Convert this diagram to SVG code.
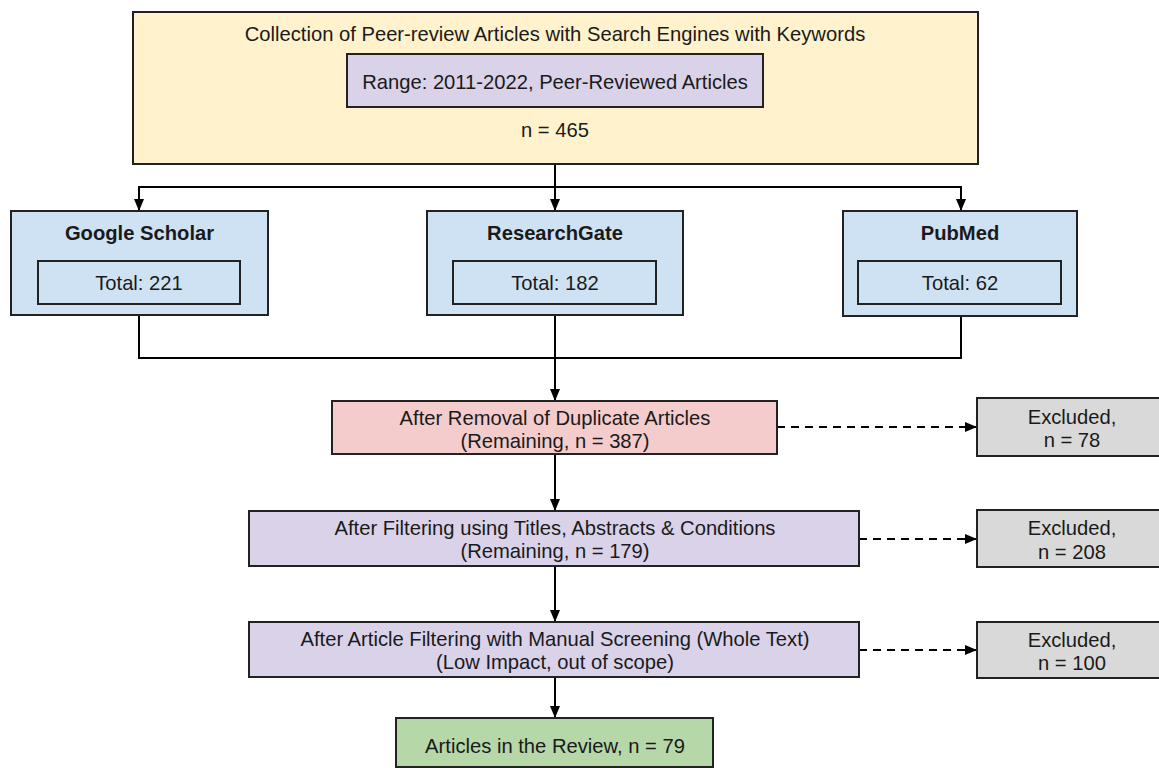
<svg xmlns="http://www.w3.org/2000/svg" width="1159" height="768" viewBox="0 0 1159 768">
<style>
  .box { stroke: #222; stroke-width: 2; }
  .yellow { fill: #fff2cc; }
  .purple { fill: #d9d2e9; }
  .blue { fill: #cfe2f3; }
  .red { fill: #f4cccc; }
  .grey { fill: #d9d9d9; }
  .green { fill: #b6d7a8; }
  .t { font-family: "Liberation Sans", Arial, sans-serif; font-size: 20.2px; fill: #1a1a1a; text-anchor: middle; }
  .b { font-weight: bold; }
  .c { fill: none; stroke: #000; stroke-width: 2; }
  .d { stroke-dasharray: 8 6; }
</style>
<defs>
  <marker id="arr" markerUnits="userSpaceOnUse" markerWidth="12" markerHeight="12" viewBox="0 0 12 12" refX="12" refY="6" orient="auto">
    <path d="M0,1 L12,6 L0,11 z" fill="#000"/>
  </marker>
</defs>
<rect width="1159" height="768" fill="#fff"/>

<g id="connectors">
  <path class="c" d="M555,164 V187 H139 V211" marker-end="url(#arr)"/>
  <path class="c" d="M555,187 H961 V211" marker-end="url(#arr)"/>
  <path class="c" d="M555,187 V211" marker-end="url(#arr)"/>
  <path class="c" d="M139,315 V358 H555"/>
  <path class="c" d="M961,316 V358 H555"/>
  <path class="c" d="M555,315 V401" marker-end="url(#arr)"/>
  <path class="c" d="M555,454 V511" marker-end="url(#arr)"/>
  <path class="c" d="M555,566 V622" marker-end="url(#arr)"/>
  <path class="c" d="M555,677 V718" marker-end="url(#arr)"/>
  <path class="c d" d="M777,427 H977" marker-end="url(#arr)"/>
  <path class="c d" d="M859,539 H977" marker-end="url(#arr)"/>
  <path class="c d" d="M859,650 H977" marker-end="url(#arr)"/>
</g>

<g id="collection">
  <rect class="box yellow" x="133" y="12" width="845" height="152"/>
  <text class="t" x="555" y="41">Collection of Peer-review Articles with Search Engines with Keywords</text>
  <rect class="box purple" x="347" y="54" width="416" height="53"/>
  <text class="t" x="555" y="89">Range: 2011-2022, Peer-Reviewed Articles</text>
  <text class="t" x="555" y="137">n = 465</text>
</g>

<g id="google-scholar">
  <rect class="box blue" x="11" y="211" width="257" height="104"/>
  <text class="t b" x="139.5" y="240">Google Scholar</text>
  <rect class="box blue" x="38" y="261" width="202" height="43"/>
  <text class="t" x="139" y="290">Total: 221</text>
</g>

<g id="researchgate">
  <rect class="box blue" x="427" y="211" width="256" height="104"/>
  <text class="t b" x="555" y="240">ResearchGate</text>
  <rect class="box blue" x="453" y="261" width="203" height="43"/>
  <text class="t" x="555" y="290">Total: 182</text>
</g>

<g id="pubmed">
  <rect class="box blue" x="843" y="211" width="234" height="105"/>
  <text class="t b" x="960" y="240">PubMed</text>
  <rect class="box blue" x="858" y="261" width="203" height="43"/>
  <text class="t" x="960" y="290">Total: 62</text>
</g>

<g id="duplicates">
  <rect class="box red" x="332" y="401" width="445" height="53"/>
  <text class="t" x="555" y="425">After Removal of Duplicate Articles</text>
  <text class="t" x="555" y="448">(Remaining, n = 387)</text>
</g>

<g id="excluded-78">
  <rect class="box grey" x="977" y="398" width="190" height="58"/>
  <text class="t" x="1072" y="424">Excluded,</text>
  <text class="t" x="1072" y="447">n = 78</text>
</g>

<g id="titles-filter">
  <rect class="box purple" x="249" y="511" width="610" height="55"/>
  <text class="t" x="555" y="535">After Filtering using Titles, Abstracts &amp; Conditions</text>
  <text class="t" x="555" y="558">(Remaining, n = 179)</text>
</g>

<g id="excluded-208">
  <rect class="box grey" x="977" y="510" width="190" height="57"/>
  <text class="t" x="1072" y="535">Excluded,</text>
  <text class="t" x="1072" y="559">n = 208</text>
</g>

<g id="manual-screening">
  <rect class="box purple" x="249" y="622" width="610" height="55"/>
  <text class="t" x="555" y="646">After Article Filtering with Manual Screening (Whole Text)</text>
  <text class="t" x="555" y="669">(Low Impact, out of scope)</text>
</g>

<g id="excluded-100">
  <rect class="box grey" x="977" y="622" width="190" height="56"/>
  <text class="t" x="1072" y="647">Excluded,</text>
  <text class="t" x="1072" y="670">n = 100</text>
</g>

<g id="review">
  <rect class="box green" x="396" y="718" width="317" height="49"/>
  <text class="t" x="555" y="753">Articles in the Review, n = 79</text>
</g>
</svg>
